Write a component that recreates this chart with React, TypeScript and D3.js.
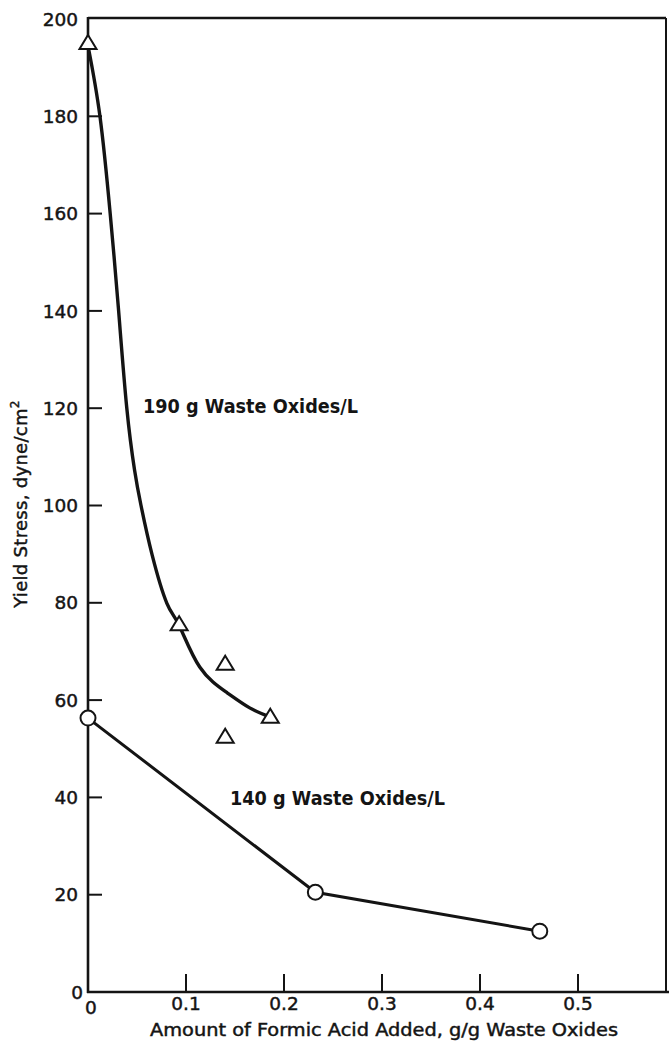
import React from "react";
import * as d3 from "d3";

// ---- data ----
const xTicks = [0, 0.1, 0.2, 0.3, 0.4, 0.5];
const yTicks = [0, 20, 40, 60, 80, 100, 120, 140, 160, 180, 200];

// 190 g Waste Oxides/L : measured points (triangles)
const tri190X = [0, 0.093, 0.14, 0.14, 0.186];
const tri190Y = [195, 75.5, 67.4, 52.4, 56.5];

// 190 g Waste Oxides/L : hand-drawn smooth curve
const curve190X = [0, 0.0122, 0.0226, 0.031, 0.0395, 0.0475, 0.054, 0.0655, 0.0805, 0.0929, 0.114, 0.142, 0.165, 0.186];
const curve190Y = [194.5, 180, 160.1, 140.6, 120.2, 107.3, 100.1, 89.8, 79.9, 75.4, 66.8, 61.5, 58.4, 56.5];

// 140 g Waste Oxides/L : measured points (circles)
const circ140X = [0, 0.232, 0.461];
const circ140Y = [56.3, 20.5, 12.5];

const xTitle = "Amount of Formic Acid Added, g/g Waste Oxides";
const label190 = "190 g Waste Oxides/L";
const label140 = "140 g Waste Oxides/L";

export default function App() {
  const W = 669;
  const H = 1042;
  const left = 88;
  const right = 666;
  const top = 19;
  const bottom = 992;

  const x = d3.scaleLinear().domain([0, 0.59]).range([left, left + 0.59 * 980]);
  const y = d3.scaleLinear().domain([0, 200]).range([bottom, top]);

  const ink = "#141414";
  const font = "'DejaVu Sans', sans-serif";

  const curvePts: [number, number][] = curve190X.map((v, i) => [x(v), y(curve190Y[i])]);
  const curvePath = d3.line().curve(d3.curveNatural)(curvePts) || "";

  const linePts: [number, number][] = circ140X.map((v, i) => [x(v), y(circ140Y[i])]);
  const linePath = d3.line()(linePts) || "";

  const triPath = (cx: number, cy: number) => {
    const half = 8.5;
    const h = 14;
    return `M${cx},${cy - h * 0.6}L${cx + half},${cy + h * 0.4}L${cx - half},${cy + h * 0.4}Z`;
  };

  const heavy = { stroke: ink, strokeWidth: 0.45 };

  return (
    <svg
      width={W}
      height={H}
      style={{ position: "absolute", left: 0, top: 0, background: "#fff" }}
      fontFamily={font}
    >
      <rect x={0} y={0} width={W} height={H} fill="#fff" />
      {/* frame */}
      <line x1={left} x2={right} y1={top - 1} y2={top - 1} stroke={ink} strokeWidth={2.5} />
      <line x1={right} x2={right} y1={top - 1} y2={bottom} stroke={ink} strokeWidth={2} />
      <line x1={left} x2={left} y1={top - 2} y2={bottom + 1} stroke={ink} strokeWidth={2.6} />
      <line x1={left - 1} x2={W} y1={bottom} y2={bottom} stroke={ink} strokeWidth={2.6} />

      {/* y ticks */}
      {yTicks.map((t) => (
        <g key={"y" + t}>
          {t !== 0 && t !== 200 && (
            <line x1={left} x2={left + 14} y1={y(t)} y2={y(t)} stroke={ink} strokeWidth={2} />
          )}
          <text
            x={left - 10}
            y={y(t)}
            dy="0.36em"
            textAnchor="end"
            fontSize={18.5}
            fill={ink}
            {...heavy}
            dx={t === 0 ? 5 : 0}
          >
            {t}
          </text>
        </g>
      ))}

      {/* x ticks */}
      {xTicks.map((t) => (
        <g key={"x" + t}>
          {t !== 0 && (
            <line x1={x(t)} x2={x(t)} y1={bottom} y2={bottom - 18} stroke={ink} strokeWidth={2} />
          )}
          <text
            x={x(t) + (t === 0 ? 3 : 0)}
            y={bottom + (t === 0 ? 22 : 18)}
            textAnchor="middle"
            fontSize={18.5}
            fill={ink}
            {...heavy}
          >
            {t}
          </text>
        </g>
      ))}

      {/* axis titles */}
      <text
        x={384}
        y={1036}
        textAnchor="middle"
        fontSize={17}
        fill={ink}
        {...heavy}
        textLength={468}
        lengthAdjust="spacingAndGlyphs"
      >
        {xTitle}
      </text>
      <text
        transform={`translate(27,504) rotate(-90)`}
        textAnchor="middle"
        fontSize={18}
        letterSpacing={0.3}
        fill={ink}
        {...heavy}
      >
        Yield Stress, dyne/cm<tspan dy="-8" fontSize={12}>2</tspan>
      </text>

      {/* series annotations */}
      <text x={143} y={413} fontSize={19} fontWeight="bold" fill={ink} textLength={215} lengthAdjust="spacingAndGlyphs">
        {label190}
      </text>
      <text x={230} y={805} fontSize={19} fontWeight="bold" fill={ink} textLength={215} lengthAdjust="spacingAndGlyphs">
        {label140}
      </text>

      {/* 190 g curve */}
      <path d={curvePath} fill="none" stroke={ink} strokeWidth={3.4} strokeLinecap="round" />
      {tri190X.map((v, i) => (
        <path
          key={"t" + i}
          d={triPath(x(v), y(tri190Y[i]))}
          fill="#fff"
          stroke={ink}
          strokeWidth={2}
          strokeLinejoin="miter"
        />
      ))}

      {/* 140 g line */}
      <path d={linePath} fill="none" stroke={ink} strokeWidth={3} />
      {circ140X.map((v, i) => (
        <circle key={"c" + i} cx={x(v)} cy={y(circ140Y[i])} r={7.5} fill="#fff" stroke={ink} strokeWidth={2} />
      ))}
    </svg>
  );
}
